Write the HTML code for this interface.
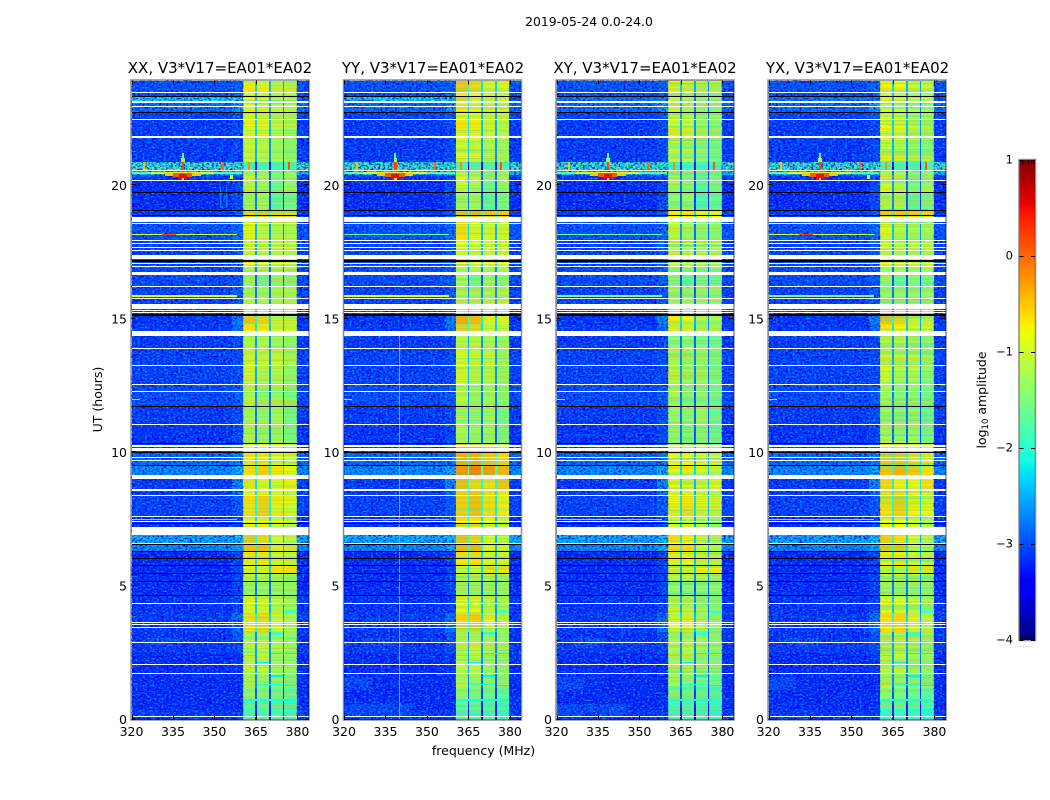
<!DOCTYPE html>
<html lang="en">
<head>
<meta charset="utf-8">
<title>2019-05-24 0.0-24.0</title>
<style>
html,body{margin:0;padding:0;background:#fff}
svg{display:block}
text{font-family:"DejaVu Sans","Liberation Sans",sans-serif;fill:#000}
</style>
</head>
<body>
<svg id="figure" xmlns="http://www.w3.org/2000/svg" width="1050" height="800" viewBox="0 0 1050 800">
  <defs>
    <filter id="speckle-dark" x="0" y="0" width="100%" height="100%" color-interpolation-filters="sRGB">
      <feTurbulence type="fractalNoise" baseFrequency="0.42 0.55" numOctaves="2" seed="4"/>
      <feColorMatrix type="matrix" values="0 0 0 0 0  0 0 0 0 0  0 0 0 0 0.85  3.6 0 0 0 -1.6"/>
    </filter>
    <filter id="speckle-light" x="0" y="0" width="100%" height="100%" color-interpolation-filters="sRGB">
      <feTurbulence type="fractalNoise" baseFrequency="0.42 0.55" numOctaves="2" seed="11"/>
      <feColorMatrix type="matrix" values="0 0 0 0 0  0 0 0 0 0.6  0 0 0 0 1  3.2 0 0 0 -1.55"/>
    </filter>
    <filter id="stripe-warm" x="0" y="0" width="100%" height="100%" color-interpolation-filters="sRGB">
      <feTurbulence type="fractalNoise" baseFrequency="0.004 0.6" numOctaves="2" seed="7"/>
      <feColorMatrix type="matrix" values="0 0 0 0 1  0 0 0 0 0.65  0 0 0 0 0  3.0 0 0 0 -1.3"/>
    </filter>
    <filter id="stripe-cool" x="0" y="0" width="100%" height="100%" color-interpolation-filters="sRGB">
      <feTurbulence type="fractalNoise" baseFrequency="0.004 0.6" numOctaves="2" seed="19"/>
      <feColorMatrix type="matrix" values="0 0 0 0 0.1  0 0 0 0 0.9  0 0 0 0 0.75  3.0 0 0 0 -1.3"/>
    </filter>
    <linearGradient id="jet-gradient" x1="0" y1="1" x2="0" y2="0"></linearGradient>
  </defs>
  <rect x="0" y="0" width="1050" height="800" fill="#fff"/>
  <text x="589" y="26" font-size="12.4" text-anchor="middle">2019-05-24 0.0-24.0</text>

  <g id="panel-0"></g>
  <g id="panel-1"></g>
  <g id="panel-2"></g>
  <g id="panel-3"></g>

  <text x="220" y="73" font-size="15" text-anchor="middle">XX, V3*V17=EA01*EA02</text>
  <text x="433" y="73" font-size="15" text-anchor="middle">YY, V3*V17=EA01*EA02</text>
  <text x="645" y="73" font-size="15" text-anchor="middle">XY, V3*V17=EA01*EA02</text>
  <text x="857.5" y="73" font-size="15" text-anchor="middle">YX, V3*V17=EA01*EA02</text>

  <text x="483.5" y="755" font-size="12.5" text-anchor="middle">frequency (MHz)</text>
  <text x="0" y="0" font-size="12.5" text-anchor="middle" transform="translate(102 399.5) rotate(-90)">UT (hours)</text>

  <g id="colorbar"></g>
  <text x="0" y="0" font-size="12.5" text-anchor="middle" transform="translate(986 400) rotate(-90)">log<tspan font-size="8.5" dy="2">10</tspan><tspan dy="-2"> amplitude</tspan></text>
  <text x="1017" y="647" font-size="6" letter-spacing="0.9" style="fill:#777">......</text>
</svg>
<script>
// ---------- chart data ----------
const panelNames = ['XX', 'YY', 'XY', 'YX'];
const freqTicks = [320, 335, 350, 365, 380];
const hourTicks = [0, 5, 10, 15, 20];
const colorTicks = [1, 0, -1, -2, -3, -4];
const freqRange = [320, 384];
const hourRange = [0, 24];
const tickHourSpan = 23.93;
const colorRange = [-4, 1];

// Frequency columns (MHz) of the dynamic spectrum
const columnEdges = [320, 356.5, 360.4, 364.7, 365.3, 369.7, 370.3, 374.7, 375.3, 379.7, 384];
const notchDepth = 1.5;

// Time segments (UT hours)
const segmentEdges = [0,0.35,0.7,1.2,1.7,2.5,3.0,3.3,4.0,4.64,5.2,5.5,5.8,6.05,6.3,6.6,7.22,7.6,8.4,8.65,9.17,9.55,10.02,10.37,11.0,11.8,12.6,13.3,13.95,14.6,14.85,15.2,15.8,16.3,16.7,17.0,17.45,18.0,18.87,19.1,19.81,20.28,20.45,20.64,20.95,21.9,22.5,22.8,23.16,23.38,23.55,24];

// log10 amplitude per time segment
const backgroundLevel = [
 -3.1,-3.2,-3.2,-3.2,-3.2,-3.1,-3.15,-3.1,-3.15,-3.2,
 -3.2,-3.2,-3.2,-3.25,-2.6,-2.4,-3.2,-3.05,-3.1,-3.1,
 -2.6,-2.8,-3.1,-3.15,-3.1,-3.0,-3.05,-3.05,-3.1,-3.1,
 -3.15,-3.05,-3.05,-3.0,-3.0,-3.0,-3.05,-2.95,-3.1,-3.2,
 -3.2,-3.1,-2.35,-1.85,-3.1,-3.1,-3.05,-2.8,-3.0,-3.0,
 -2.95];
const shoulderLevel = [
 -3.1,-3.2,-3.2,-3.2,-3.15,-3.0,-2.95,-2.75,-3.05,-3.05,
 -3.05,-3.05,-3.05,-3.1,-2.4,-2.3,-3.0,-2.9,-2.8,-2.6,
 -2.4,-2.7,-2.9,-3.05,-3.0,-2.9,-3.0,-3.0,-3.0,-2.75,
 -2.65,-2.9,-2.9,-2.9,-2.9,-2.8,-2.9,-2.8,-2.9,-3.0,
 -3.0,-3.0,-2.3,-1.85,-3.0,-3.0,-2.95,-2.5,-2.7,-2.9,
 -2.85];
const band1Level = [
 -1.9,-1.75,-1.4,-1.2,-1.1,-1.15,-1.25,-0.65,-0.9,-1.3,
 -1.1,-0.95,-0.75,-0.7,-0.45,-0.5,-0.75,-0.65,-0.8,-0.7,
 -0.65,-0.7,-0.8,-1.25,-1.25,-1.15,-0.95,-1.0,-1.15,-0.7,
 -0.5,-1.2,-1.3,-1.3,-1.3,-0.8,-1.05,-0.85,-0.55,-1.3,
 -1.05,-1.0,-1.2,-1.9,-0.95,-0.8,-0.9,-0.85,-0.85,-0.9,
 -0.75];
const band2Level = [
 -1.9,-1.7,-1.5,-1.3,-1.1,-1.05,-1.25,-0.6,-0.95,-1.35,
 -1.1,-0.95,-0.7,-0.7,-0.45,-0.6,-0.75,-0.55,-0.75,-0.85,
 -0.55,-0.7,-0.8,-1.4,-1.35,-1.35,-1.15,-1.1,-1.15,-0.75,
 -0.6,-1.2,-1.35,-1.65,-1.3,-0.95,-1.15,-1.1,-0.5,-1.3,
 -1.25,-1.2,-1.3,-1.9,-1.05,-0.85,-0.95,-1.0,-1.0,-1.0,
 -0.85];
const band3Level = [
 -1.9,-1.8,-1.6,-1.4,-1.3,-1.2,-1.25,-1.0,-1.15,-1.35,
 -1.15,-0.7,-0.95,-0.95,-0.9,-0.9,-0.95,-0.75,-0.9,-0.9,
 -0.7,-0.85,-0.95,-1.35,-1.25,-1.3,-1.15,-1.1,-1.25,-1.05,
 -1.0,-1.2,-1.3,-1.4,-1.35,-0.95,-1.15,-1.2,-0.6,-1.75,
 -1.6,-1.5,-1.5,-1.9,-1.25,-1.1,-1.15,-1.15,-1.2,-1.2,
 -1.1];
const band4Level = [
 -2.0,-1.9,-1.7,-1.5,-1.35,-1.3,-1.35,-1.2,-1.25,-1.35,
 -1.3,-0.7,-1.05,-1.05,-1.05,-1.1,-1.15,-0.85,-1.05,-0.75,
 -0.85,-0.95,-1.1,-1.55,-1.55,-1.45,-1.35,-1.3,-1.35,-1.05,
 -1.05,-1.2,-1.3,-1.5,-1.3,-1.0,-1.15,-1.2,-0.6,-1.6,
 -1.35,-1.3,-1.4,-1.9,-1.35,-1.2,-1.15,-1.2,-1.2,-1.25,
 -1.1];

// Band level shift per polarisation and time segment
const xxShift = new Array(51).fill(0);
const yyShift = [
 0,0,0,0,0,0,0,.05,.05,0,
 0,.05,.05,.05,.05,.05,.1,.1,.25,.25,
 .45,.35,.35,0,0,.05,.05,.05,.05,.15,
 .15,.1,.1,.1,.1,.15,.15,.2,.1,.05,
 .05,.05,.05,0,.1,.1,.1,.1,.2,.2,
 .25];
const xyShift = [
 -.1,-.1,-.1,-.1,-.1,-.1,-.1,-.15,-.15,-.1,
 -.1,-.05,-.1,-.1,-.15,-.15,-.15,-.15,-.15,-.1,
 -.15,-.15,-.15,-.1,-.1,-.15,-.15,-.2,-.2,-.15,
 -.2,-.1,-.1,-.1,-.1,-.2,-.1,-.2,-.2,-.1,
 -.15,-.15,-.1,0,-.2,-.2,-.2,-.2,-.2,-.15,
 -.1];
const yxShift = [
 -.05,0,0,0,0,0,0,0,0,0,
 0,0,0,0,-.05,-.05,-.05,0,.1,.1,
 .15,.15,.15,-.05,-.05,-.05,-.05,-.05,-.05,0,
 0,0,0,0,0,0,.05,.05,0,.05,
 .05,0,0,0,0,0,-.05,-.05,-.05,0,
 0];

// Broad faint patches: [freq low, freq high, hour low, hour high, log10 amplitude, polarisations]
const faintPatches = [
 [320,360,23.16,23.38,-2.2,'XX YY'],
 [320,360,23.16,23.38,-2.7,'XY YX'],
 [326,338,2.75,3.05,-2.95,'XX YY XY YX'],
 [320,345,0.15,0.6,-3.0,'YY XY'],
 [320,330,1.1,1.6,-3.0,'YY XY YX']
];
// Localised interference, same columns
const interferenceCells = [
 [320,360,20.5,20.56,-1.8,'XX YY XY YX'],
 [327,350,20.47,20.56,-1.0,'XX YY XY YX'],
 [332,345,20.42,20.54,-0.5,'XX YY XY YX'],
 [335,342,20.38,20.52,0.1,'XX YY XY YX'],
 [337,340,20.32,20.5,0.5,'XX YY XY YX'],
 [338.1,339,20.2,20.32,-1.5,'XX YY XY YX'],
 [338,339.2,20.95,21.1,-1.3,'XX YY XY YX'],
 [338.2,338.9,21.1,21.28,-1.8,'XX YY XY YX'],
 [355.5,356.7,20.3,20.46,-0.9,'XX YX'],
 [324.2,325,20.64,20.95,-0.5,'XX YY XY YX'],
 [338.2,339,20.64,20.95,0.2,'XX YY XY YX'],
 [352.7,353.4,20.64,20.95,0,'XX YY XY YX'],
 [362,362.7,20.64,20.95,-0.2,'XX YY XY YX'],
 [376.5,377.3,20.64,20.95,0.1,'XX YY XY YX'],
 [320,358,18.21,18.25,-1.0,'XX YX'],
 [320,358,18.21,18.25,-1.7,'YY XY'],
 [331,336,18.21,18.25,0.2,'XX YX'],
 [320,358,15.87,15.93,-0.9,'XX YY'],
 [320,358,15.87,15.93,-1.5,'XY YX'],
 [320,358,7.5,7.54,-1.4,'XX YY XY YX'],
 [320,323,11.98,12.02,-1.5,'XX YY XY YX'],
 [339.8,340.2,0,14.4,-2.35,'YY'],
 [352,352.5,19.2,20.0,-2.7,'XX'],
 [354,354.5,19.2,20.0,-2.7,'XX'],
 [365.3,369.7,2.12,2.17,-2.2,'XX YY XY YX'],
 [360.4,364.7,2.4,2.44,-2.0,'XX YY XY YX'],
 [370.3,374.7,1.62,1.68,-2.2,'XX YY XY YX'],
 [375.3,379.7,1.25,1.3,-2.2,'XX YY XY YX'],
 [365.3,374.7,1.3,1.35,-2.1,'XX YY XY YX'],
 [370.3,379.7,2.45,2.5,-2.2,'XX YY XY YX'],
 [360.4,379.7,0.72,0.78,-2.1,'XX YY XY YX'],
 [370.3,374.7,3.2,3.3,-1.9,'XX YY XY YX'],
 [365.3,369.7,3.35,3.4,-1.9,'XX YY XY YX'],
 [375.3,379.7,4.0,4.1,-1.8,'XX YY XY YX']
];

// Flagged time ranges (UT hours)
const blankedHours = [
 [23.505,23.55],[23.16,23.23],[22.99,23.03],[22.50,22.54],[21.84,21.90],[20.59,20.64],[20.24,20.28],
 [18.67,18.87],[18.58,18.63],[17.97,18.01],[17.84,17.88],[17.71,17.75],[17.60,17.63],[17.30,17.45],
 [17.11,17.15],[17.01,17.05],[16.71,16.81],[16.26,16.30],[15.79,15.83],[15.41,15.61],[15.34,15.37],
 [15.26,15.29],[14.42,14.59],[13.92,13.95],[13.26,13.30],[12.56,12.60],[12.28,12.32],[11.04,11.08],
 [10.24,10.31],[10.07,10.19],[9.82,9.86],[9.69,9.73],[9.03,9.17],[8.58,8.66],[8.41,8.45],[7.61,7.64],
 [7.40,7.44],[6.93,7.22],[6.59,6.63],[4.34,4.38],[3.62,3.66],[3.53,3.57],[3.44,3.48],[2.87,2.91],
 [2.05,2.085],[1.71,1.75],[0.075,0.113]
];
const droppedHours = [
 [23.36,23.40],[22.77,22.81],[19.79,19.83],[19.08,19.12],[18.91,18.95],[17.18,17.26],[15.17,15.23],
 [11.75,11.79],[10.35,10.39],[10.00,10.04],[9.53,9.57],[7.33,7.37],[6.55,6.59],[6.28,6.32],[6.03,6.07],
 [5.77,5.81],[5.47,5.51],[5.17,5.21],[4.62,4.66]
];

// ---------- layout ----------
const NS = 'http://www.w3.org/2000/svg';
const panelLefts = [131.5, 344, 556.5, 768.5];
const panelWidth = 177;
const plotTop = 80.5;
const plotBottom = 719.5;
const cbLeft = 1019.5, cbRight = 1035, cbTop = 160, cbBottom = 640;
const cbEdgeTickFractions = [0.14, 0.33, 0.52, 0.71, 0.9];

function xScale(left, freq) {
  return left + (freq - freqRange[0]) / (freqRange[1] - freqRange[0]) * panelWidth;
}
function yScale(hour) {
  return plotBottom - (hour - hourRange[0]) / (hourRange[1] - hourRange[0]) * (plotBottom - plotTop);
}
function yTickScale(hour) {
  return plotBottom - hour / tickHourSpan * (plotBottom - plotTop);
}
function cScale(value) {
  return cbBottom - (value - colorRange[0]) / (colorRange[1] - colorRange[0]) * (cbBottom - cbTop);
}
function ramp(t, pts) {
  if (t <= pts[0][0]) return pts[0][1];
  for (let i = 1; i < pts.length; i++) {
    if (t <= pts[i][0]) {
      const a = pts[i - 1], b = pts[i];
      return a[1] + (b[1] - a[1]) * (t - a[0]) / (b[0] - a[0]);
    }
  }
  return pts[pts.length - 1][1];
}
function jetFraction(t) {
  const r = ramp(t, [[0, 0], [0.35, 0], [0.66, 1], [0.89, 1], [1, 0.5]]);
  const g = ramp(t, [[0, 0], [0.125, 0], [0.375, 1], [0.64, 1], [0.91, 0], [1, 0]]);
  const b = ramp(t, [[0, 0.5], [0.11, 1], [0.34, 1], [0.65, 0], [1, 0]]);
  return 'rgb(' + Math.round(r * 255) + ',' + Math.round(g * 255) + ',' + Math.round(b * 255) + ')';
}
function jet(value) {
  return jetFraction((value - colorRange[0]) / (colorRange[1] - colorRange[0]));
}
function make(tag, attrs, parent) {
  const el = document.createElementNS(NS, tag);
  for (const k in attrs) el.setAttribute(k, attrs[k]);
  parent.appendChild(el);
  return el;
}
function rectBetween(left, f0, f1, h0, h1, fill, parent, thin) {
  const x0 = Math.round(xScale(left, f0));
  const x1 = Math.max(x0 + 1, Math.round(xScale(left, f1)));
  const yTop = Math.round(yScale(h1));
  const tall = thin ? Math.max(1, Math.round(yScale(h0) - yScale(h1))) : Math.max(1, Math.round(yScale(h0)) - yTop);
  return make('rect', { x: x0, y: yTop, width: x1 - x0, height: tall, fill: fill, 'shape-rendering': 'crispEdges' }, parent);
}

const panelShifts = [xxShift, yyShift, xyShift, yxShift];

function segmentColumnLevel(seg, col, shift) {
  const bg = backgroundLevel[seg];
  const bands = [band1Level[seg], band2Level[seg], band3Level[seg], band4Level[seg]];
  if (col === 0 || col === 9) return bg;
  if (col === 1) return shoulderLevel[seg];
  if (col === 2) return bands[0] + shift;
  if (col === 3) return (bands[0] + bands[1]) / 2 + shift - notchDepth;
  if (col === 4) return bands[1] + shift;
  if (col === 5) return (bands[1] + bands[2]) / 2 + shift - notchDepth;
  if (col === 6) return bands[2] + shift;
  if (col === 7) return (bands[2] + bands[3]) / 2 + shift - notchDepth;
  return bands[3] + shift;
}

panelNames.forEach(function (name, p) {
  const left = panelLefts[p];
  const root = document.getElementById('panel-' + p);
  const shift = panelShifts[p];
  const key = name.toLowerCase();

  for (let s = 0; s < segmentEdges.length - 1; s++) {
    for (let c = 0; c < columnEdges.length - 1; c++) {
      const level = segmentColumnLevel(s, c, shift[s]);
      const cell = rectBetween(left, columnEdges[c], columnEdges[c + 1], segmentEdges[s], segmentEdges[s + 1], jet(level), root, false);
      
      
    }
  }

  faintPatches.forEach(function (patch) {
    if (patch[5].split(' ').indexOf(name) < 0) return;
    const mark = rectBetween(left, patch[0], patch[1], patch[2], patch[3], jet(patch[4]), root, true);
    
    
  });

  // speckle texture on the background channels
  [[columnEdges[0], columnEdges[2]], [columnEdges[9], columnEdges[10]]].forEach(function (zone) {
    const x0 = xScale(left, zone[0]);
    const wid = xScale(left, zone[1]) - x0;
    const dark = make('rect', { x: x0, y: plotTop, width: wid, height: plotBottom - plotTop, fill: '#000', filter: 'url(#speckle-dark)' }, root);
    
    
    const light = make('rect', { x: x0, y: plotTop, width: wid, height: plotBottom - plotTop, fill: '#000', filter: 'url(#speckle-light)' }, root);
    
    
  });

  // fine horizontal striping inside the bright bands
  [[columnEdges[2], columnEdges[3]], [columnEdges[4], columnEdges[5]], [columnEdges[6], columnEdges[7]], [columnEdges[8], columnEdges[9]]].forEach(function (zone) {
    const x0 = xScale(left, zone[0]);
    const wid = xScale(left, zone[1]) - x0;
    const warm = make('rect', { x: x0, y: plotTop, width: wid, height: plotBottom - plotTop, fill: '#000', filter: 'url(#stripe-warm)', opacity: 0.45 }, root);
    
    
    const cool = make('rect', { x: x0, y: plotTop, width: wid, height: plotBottom - plotTop, fill: '#000', filter: 'url(#stripe-cool)', opacity: 0.45 }, root);
    
    
  });

  interferenceCells.forEach(function (spot) {
    if (spot[5].split(' ').indexOf(name) < 0) return;
    const mark = rectBetween(left, spot[0], spot[1], spot[2], spot[3], jet(spot[4]), root, true);
    
    
  });

  blankedHours.forEach(function (r) {
    const flag = rectBetween(left, freqRange[0], freqRange[1], r[0], r[1], '#fff', root, true);
    
    
  });
  droppedHours.forEach(function (r) {
    const flag = rectBetween(left, freqRange[0], freqRange[1], r[0], r[1], '#000', root, true);
    
    
  });

  const frame = make('rect', { x: left - 0.5, y: plotTop - 0.5, width: panelWidth + 1, height: plotBottom - plotTop + 1, fill: 'none', stroke: '#000', 'stroke-opacity': 0.45, 'stroke-width': 1.5 }, root);
  
  

  freqTicks.forEach(function (f) {
    const x = Math.round(xScale(left, f)) + 0.5;
    const bottomTick = make('line', { x1: x, x2: x, y1: plotBottom, y2: plotBottom - 4, stroke: '#000', 'stroke-width': 1 }, root);
    
    
    const topTick = make('line', { x1: x, x2: x, y1: plotTop, y2: plotTop + 4, stroke: '#000', 'stroke-width': 1 }, root);
    
    
    const label = make('text', { x: xScale(left, f), y: 736, 'font-size': 12.5, 'text-anchor': 'middle' }, root);
    
    
    label.textContent = String(f);
  });

  hourTicks.forEach(function (h) {
    const y = Math.round(yTickScale(h)) - 0.5;
    const leftTick = make('line', { x1: left, x2: left + 4, y1: y, y2: y, stroke: '#000', 'stroke-width': 1 }, root);
    
    
    const rightTick = make('line', { x1: left + panelWidth, x2: left + panelWidth - 4, y1: y, y2: y, stroke: '#000', 'stroke-width': 1 }, root);
    
    
    const label = make('text', { x: left - 4.5, y: yTickScale(h) + 4.5, 'font-size': 12.5, 'text-anchor': 'end' }, root);
    
    
    label.textContent = String(h);
  });
});

// ---------- colorbar ----------
const grad = document.getElementById('jet-gradient');
[0, 0.11, 0.125, 0.34, 0.35, 0.375, 0.64, 0.65, 0.66, 0.89, 0.91, 1].forEach(function (t) {
  make('stop', { offset: t, 'stop-color': jetFraction(t) }, grad);
});
const cb = document.getElementById('colorbar');
const cbBar = make('rect', { x: cbLeft, y: cbTop, width: cbRight - cbLeft, height: cbBottom - cbTop, fill: 'url(#jet-gradient)' }, cb);


cbEdgeTickFractions.forEach(function (frac) {
  const x = Math.round(cbLeft + frac * (cbRight - cbLeft)) + 0.5;
  const edgeTop = make('line', { x1: x, x2: x, y1: cbTop, y2: cbTop + 4, stroke: '#000', 'stroke-width': 1 }, cb);
  
  
  const edgeBottom = make('line', { x1: x, x2: x, y1: cbBottom, y2: cbBottom - 4, stroke: '#000', 'stroke-width': 1 }, cb);
  
  
});
const cbFrame = make('rect', { x: cbLeft - 0.5, y: cbTop - 0.5, width: cbRight - cbLeft + 1, height: cbBottom - cbTop + 1, fill: 'none', stroke: '#000', 'stroke-opacity': 0.45, 'stroke-width': 1.5 }, cb);


colorTicks.forEach(function (v) {
  const y = Math.round(cScale(v)) + 0.5;
  const tickL = make('line', { x1: cbLeft, x2: cbLeft + 4, y1: y, y2: y, stroke: '#000', 'stroke-width': 1 }, cb);
  
  
  const tickR = make('line', { x1: cbRight, x2: cbRight - 4, y1: y, y2: y, stroke: '#000', 'stroke-width': 1 }, cb);
  
  
  const label = make('text', { x: 1013, y: cScale(v) + 3.5, 'font-size': 11.5, 'text-anchor': 'end' }, cb);
  
  
  label.textContent = v < 0 ? '\u2212' + Math.abs(v) : String(v);
});
</script>
</body>
</html>
